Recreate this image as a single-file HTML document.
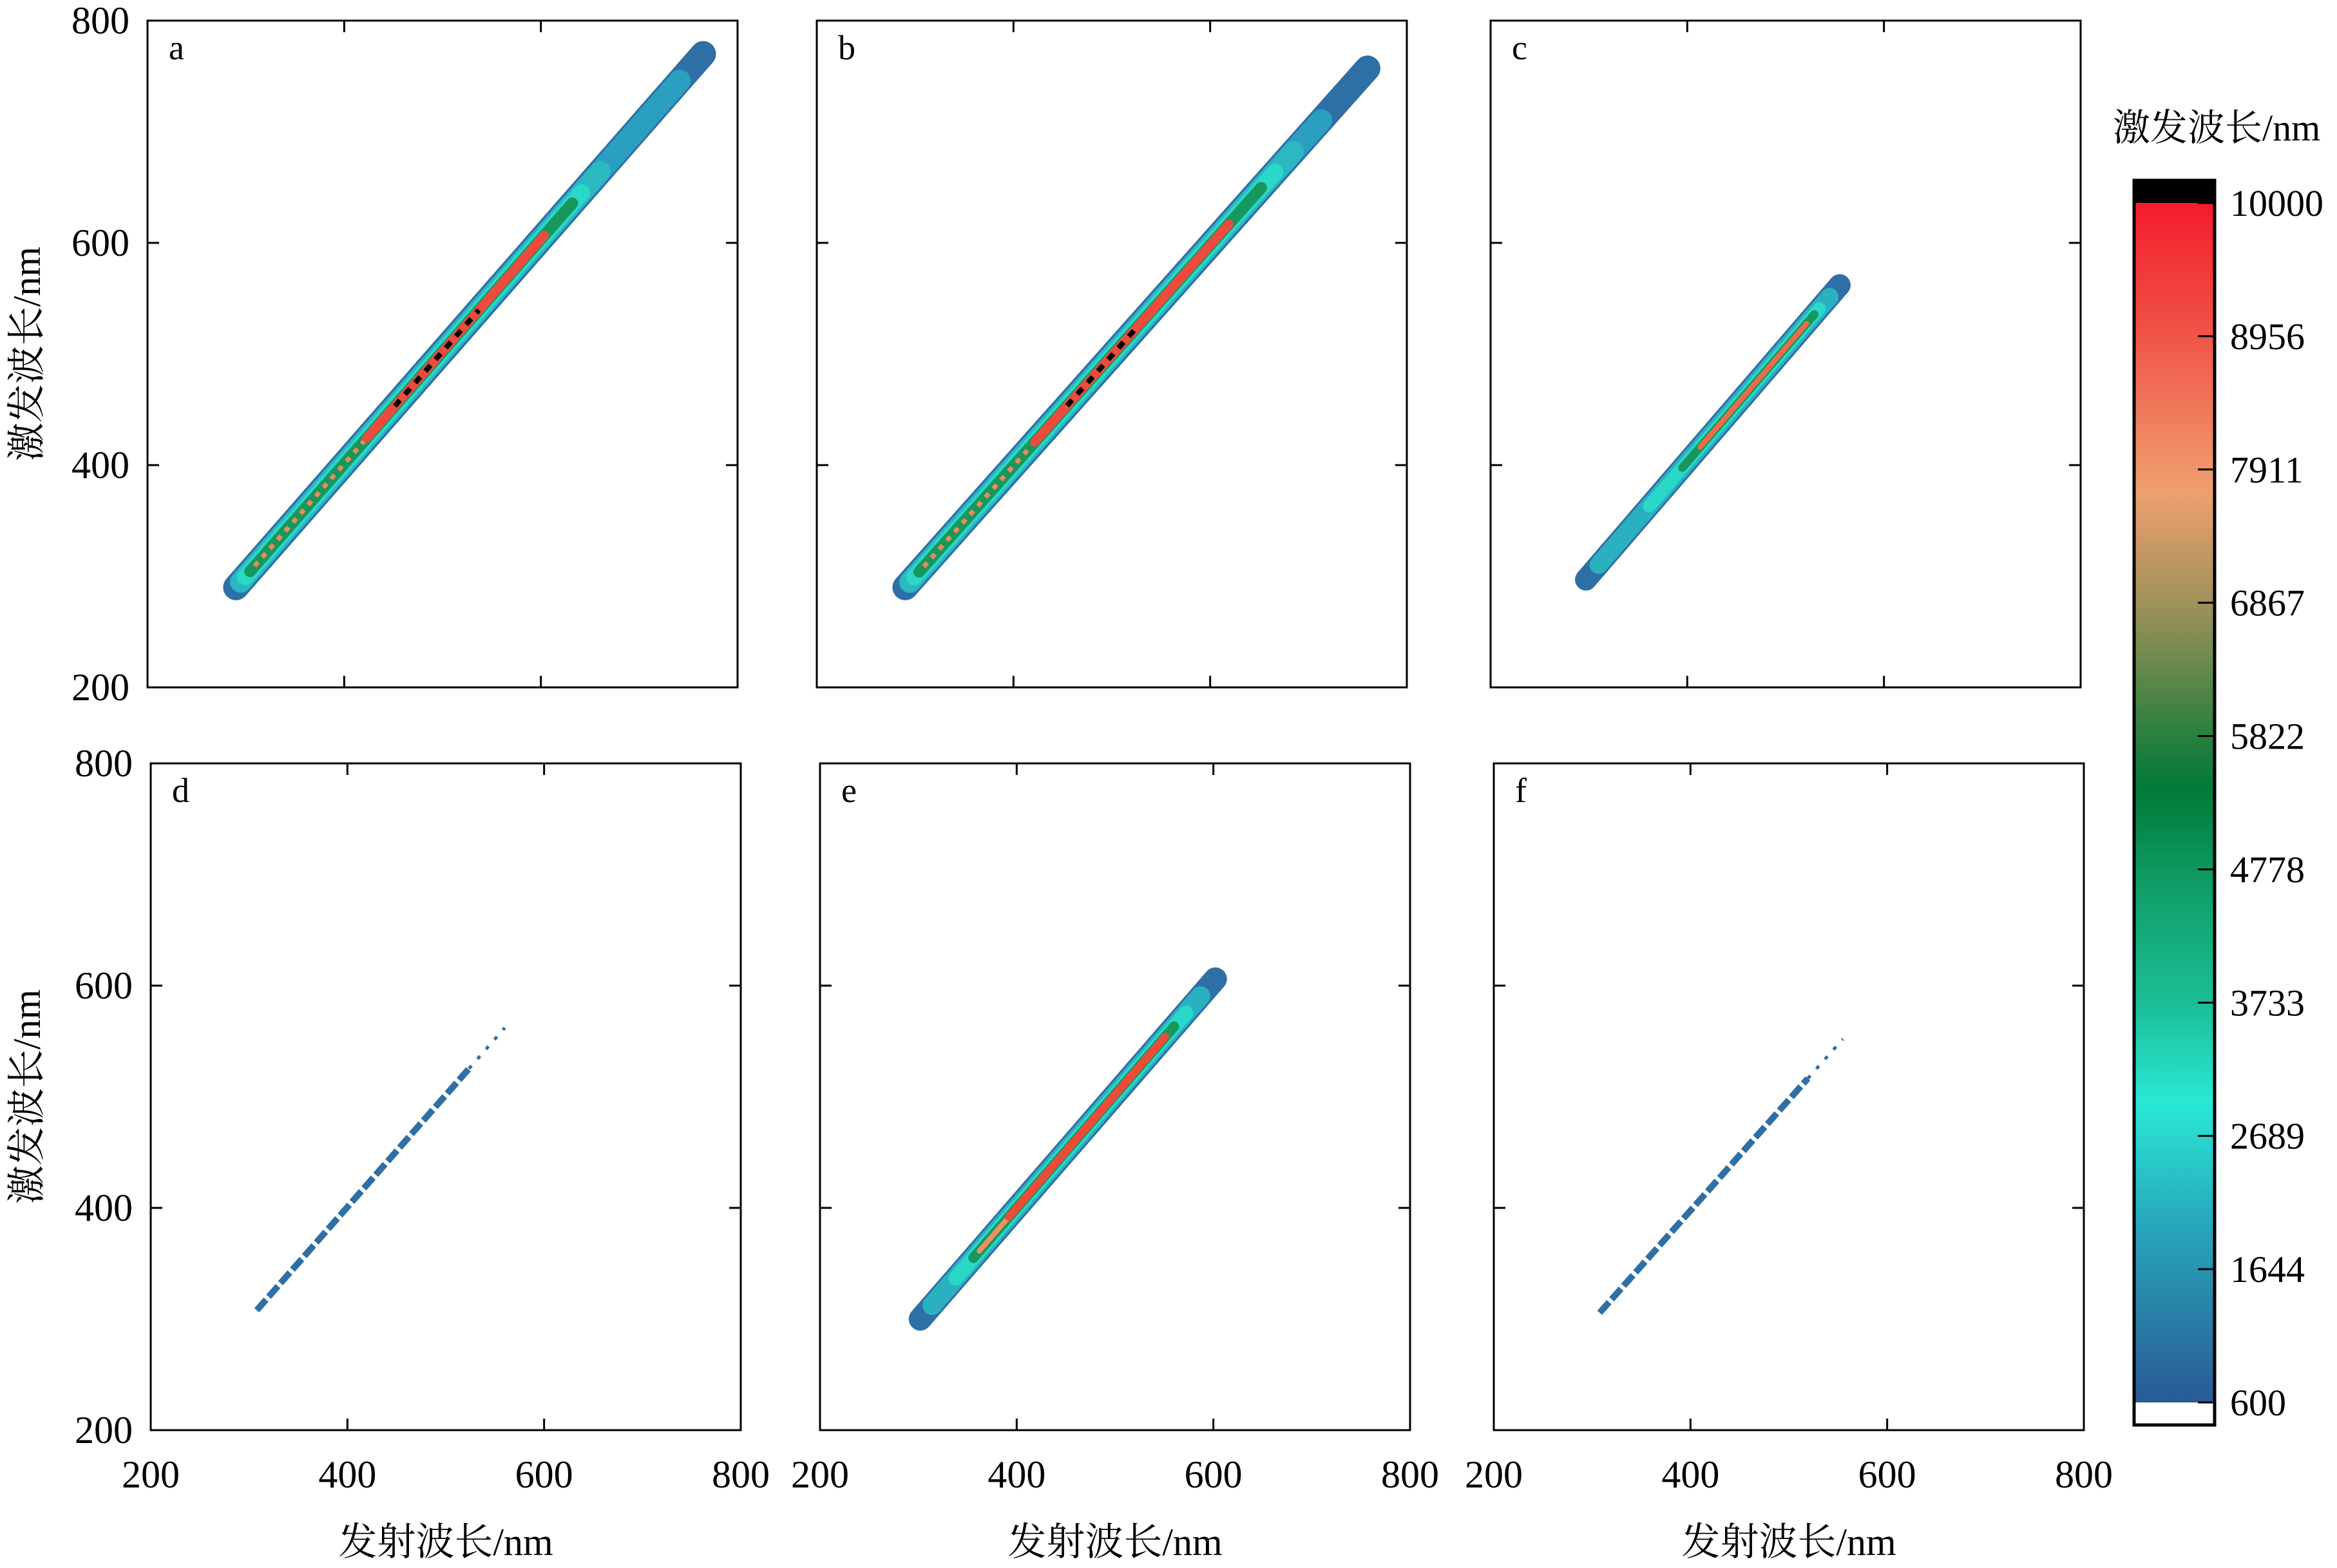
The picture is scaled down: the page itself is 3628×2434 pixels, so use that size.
<!DOCTYPE html>
<html><head><meta charset="utf-8">
<style>
html,body{margin:0;padding:0;background:#fff;}
svg{display:block;}
text{font-family:"Liberation Serif","Noto Serif CJK SC",serif;fill:#000;}
</style></head>
<body>
<svg id="s" xmlns="http://www.w3.org/2000/svg" width="3628" height="2434" viewBox="0 0 3628 2434">
<defs>
<linearGradient id="cb" x1="0" y1="0" x2="0" y2="1">
<stop offset="0" stop-color="#f21c2c"/>
<stop offset="0.11" stop-color="#f05448"/>
<stop offset="0.24" stop-color="#f0a070"/>
<stop offset="0.34" stop-color="#9a9058"/>
<stop offset="0.44" stop-color="#2e8040"/>
<stop offset="0.49" stop-color="#007a38"/>
<stop offset="0.56" stop-color="#0e9a62"/>
<stop offset="0.67" stop-color="#1cbf98"/>
<stop offset="0.75" stop-color="#2ae8d6"/>
<stop offset="0.85" stop-color="#28a8bc"/>
<stop offset="1" stop-color="#2a5a95"/>
</linearGradient>
</defs>
<g id="g"></g>
</svg>
<script>
var g=document.getElementById('g'),h='';
var P=[
 {L:229,T:32,lab:'a',yl:1,xl:0,b:[290,290,765,770],ly:[['#2e6fa5',40,0,1],['#2a9fbf',34,0.01,0.95],['#2bb8c0',32,0.01,0.78],['#2ad8c8',26,0.02,0.74],['#17975e',18,0.03,0.72],['#ee8a5a',7,0.04,0.30,'8 10'],['#ee4a3e',14,0.28,0.66],['#000',8,0.34,0.52,'12 12']]},
 {L:1268,T:32,lab:'b',yl:0,xl:0,b:[290,290,760,757],ly:[['#2e6fa5',40,0,1],['#2a9fbf',34,0.01,0.90],['#2bb8c0',32,0.01,0.84],['#2ad8c8',26,0.02,0.80],['#17975e',18,0.03,0.77],['#ee8a5a',7,0.04,0.32,'8 10'],['#ee4a3e',14,0.28,0.70],['#000',8,0.35,0.50,'12 12']]},
 {L:2314,T:32,lab:'c',yl:0,xl:0,b:[297,297,555,562],ly:[['#2e6fa5',34,0,1],['#2bb0c0',28,0.05,0.96],['#2ad8c8',20,0.25,0.92],['#17975e',13,0.38,0.9],['#ef6a4a',8,0.45,0.87]]},
 {L:234,T:1185,lab:'d',yl:1,xl:1,b:[300,300,560,562],ly:[['#2e6fa5',10,0.03,0.86,'22 6'],['#2e6fa5',5,0.86,1,'6 14']]},
 {L:1273,T:1185,lab:'e',yl:0,xl:1,b:[302,300,602,606],ly:[['#2e6fa5',36,0,1],['#2bb0c0',30,0.04,0.95],['#2ad8c8',23,0.12,0.9],['#17975e',16,0.18,0.86],['#f09060',8,0.2,0.35],['#ee4a3a',12,0.3,0.83]]},
 {L:2319,T:1185,lab:'f',yl:0,xl:1,b:[300,298,555,552],ly:[['#2e6fa5',10,0.03,0.86,'22 6'],['#2e6fa5',5,0.86,1,'6 14']]}
];
var W=916,H=1035;
P.forEach(function(p){
 var B=p.T+H;
 function X(v){return p.L+(v-200)/600*W;}
 function Y(v){return B-(v-200)/600*H;}
 var b=p.b;
 p.ly.forEach(function(l){
  var x0=b[0]+(b[2]-b[0])*l[2],y0=b[1]+(b[3]-b[1])*l[2],x1=b[0]+(b[2]-b[0])*l[3],y1=b[1]+(b[3]-b[1])*l[3];
  h+='<line x1="'+X(x0)+'" y1="'+Y(y0)+'" x2="'+X(x1)+'" y2="'+Y(y1)+'" stroke="'+l[0]+'" stroke-width="'+l[1]+'"'+(l[4]?' stroke-dasharray="'+l[4]+'" stroke-linecap="butt"':' stroke-linecap="round"')+'/>';
 });
 h+='<rect x="'+p.L+'" y="'+p.T+'" width="'+W+'" height="'+H+'" fill="none" stroke="#000" stroke-width="3"/>';
 [400,600].forEach(function(v){
  var x=X(v),y=Y(v);
  h+='<line x1="'+x+'" y1="'+B+'" x2="'+x+'" y2="'+(B-18)+'" stroke="#000" stroke-width="3"/>';
  h+='<line x1="'+x+'" y1="'+p.T+'" x2="'+x+'" y2="'+(p.T+18)+'" stroke="#000" stroke-width="3"/>';
  h+='<line x1="'+p.L+'" y1="'+y+'" x2="'+(p.L+18)+'" y2="'+y+'" stroke="#000" stroke-width="3"/>';
  h+='<line x1="'+(p.L+W)+'" y1="'+y+'" x2="'+(p.L+W-18)+'" y2="'+y+'" stroke="#000" stroke-width="3"/>';
 });
 h+='<text x="'+(p.L+33)+'" y="'+(p.T+60)+'" font-size="54">'+p.lab+'</text>';
 if(p.yl){
  [200,400,600,800].forEach(function(v){h+='<text x="'+(p.L-28)+'" y="'+(Y(v)+20)+'" font-size="60" text-anchor="end">'+v+'</text>';});
  var cy=p.T+H/2;
  h+='<text transform="translate(62,'+cy+') rotate(-90)" font-size="60" text-anchor="middle">激发波长/nm</text>';
 }
 if(p.xl){
  [200,400,600,800].forEach(function(v){h+='<text x="'+X(v)+'" y="2309" font-size="60" text-anchor="middle">'+v+'</text>';});
  h+='<text x="'+(p.L+W/2)+'" y="2414" font-size="60" text-anchor="middle">发射波长/nm</text>';
 }
});
h+='<rect x="3313" y="280" width="125" height="35" fill="#000"/>';
h+='<rect x="3313" y="315" width="125" height="1862" fill="url(#cb)"/>';
h+='<rect x="3313" y="280" width="125" height="1932" fill="none" stroke="#000" stroke-width="5"/>';
var labs=['10000','8956','7911','6867','5822','4778','3733','2689','1644','600'];
labs.forEach(function(t,i){
 var y=315+i*1862/9;
 h+='<line x1="3412" y1="'+y+'" x2="3438" y2="'+y+'" stroke="#000" stroke-width="3"/>';
 h+='<text x="3462" y="'+(y+20)+'" font-size="58">'+t+'</text>';
});
h+='<text x="3280" y="218" font-size="58">激发波长/nm</text>';
g.innerHTML=h;
</script>
</body></html>
